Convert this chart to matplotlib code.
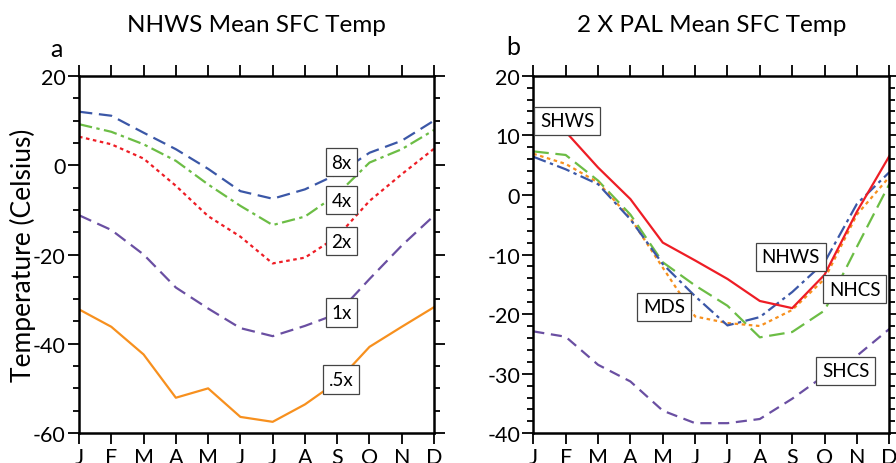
import numpy as np
import matplotlib
matplotlib.use('Agg')
import matplotlib.pyplot as plt
from matplotlib.ticker import MultipleLocator

plt.rcParams['font.family'] = ['Lato', 'DejaVu Sans']

months = ['J', 'F', 'M', 'A', 'M', 'J', 'J', 'A', 'S', 'O', 'N', 'D']

# panel a: NHWS mean surface temperature for different CO2 levels
a_8x = [12.0, 11.1, 7.3, 3.6, -0.8, -5.8, -7.5, -5.4, -2.0, 2.8, 5.5, 10.0]
a_4x = [9.2, 7.5, 4.7, 1.0, -4.3, -9.1, -13.4, -11.5, -6.5, 0.6, 3.6, 7.9]
a_2x = [6.4, 4.7, 1.5, -4.6, -11.4, -16.0, -22.0, -20.7, -16.0, -8.0, -2.0, 3.7]
a_1x = [-11.2, -14.5, -20.0, -27.4, -32.1, -36.5, -38.3, -36.0, -33.3, -25.5, -18.0, -11.3]
a_05x = [-32.3, -36.2, -42.4, -52.1, -50.0, -56.4, -57.5, -53.6, -48.5, -40.7, -36.2, -31.8]

# panel b: 2 x PAL mean surface temperature for different regions
b_shws = [12.2, 10.6, 4.6, -0.7, -8.0, -11.0, -14.1, -17.8, -19.0, -13.4, -2.8, 6.5]
b_mds = [6.9, 5.2, 2.1, -3.9, -12.2, -20.4, -21.5, -22.0, -19.3, -14.1, -3.3, 3.0]
b_nhcs = [7.3, 6.7, 2.4, -3.3, -11.3, -15.2, -18.6, -23.9, -23.0, -19.4, -8.7, 1.8]
b_nhws = [6.4, 4.3, 1.8, -4.1, -11.6, -17.0, -21.9, -20.5, -16.3, -11.3, -1.5, 3.8]
b_shcs = [-22.9, -23.8, -28.5, -31.3, -36.2, -38.3, -38.3, -37.6, -34.2, -30.3, -27.0, -22.5]

blue = '#3b57a7'
green = '#6cbd45'
red = '#ee1d25'
purple = '#6a4fa2'
orange = '#f7901e'

x = np.arange(12)

fig = plt.figure(figsize=(8.96, 4.64), dpi=100)
ax1 = fig.add_axes([0.0882, 0.0647, 0.3962, 0.7693])
ax2 = fig.add_axes([0.5952, 0.0640, 0.3973, 0.7707])

lw = 1.6
ax1.plot(x, a_8x, color=blue, lw=lw, dashes=(6, 3))
ax1.plot(x, a_4x, color=green, lw=lw, dashes=(6, 2, 1.5, 2))
ax1.plot(x, a_2x, color=red, lw=lw, dashes=(1.6, 1.6))
ax1.plot(x, a_1x, color=purple, lw=lw, dashes=(6, 3))
ax1.plot(x, a_05x, color=orange, lw=lw)

ax2.plot(x, b_shcs, color=purple, lw=lw, dashes=(5, 3))
ax2.plot(x, b_nhcs, color=green, lw=lw, dashes=(7, 3))
ax2.plot(x, b_mds, color=orange, lw=lw, dashes=(1.6, 1.6))
ax2.plot(x, b_nhws, color=blue, lw=lw, dashes=(6, 2, 1.5, 2))
ax2.plot(x, b_shws, color=red, lw=lw)

box = dict(boxstyle='square,pad=0.3', fc='white', ec='#444444', lw=0.9)
for lab, yv in [('8x', 0.7), ('4x', -7.8), ('2x', -17.0), ('1x', -33.0), ('.5x', -48.0)]:
    ax1.text(8.13, yv, lab, fontsize=13.5, ha='center', va='center', bbox=box)
for lab, xv, yv in [('SHWS', 1.04, 12.4), ('NHWS', 7.96, -10.4), ('NHCS', 9.93, -15.8),
                    ('MDS', 4.04, -18.8), ('SHCS', 9.65, -29.5)]:
    ax2.text(xv, yv, lab, fontsize=13.5, ha='center', va='center', bbox=box)

for ax, ylim, major, minor in [(ax1, (-60, 20), 20, 5), (ax2, (-40, 20), 10, 2)]:
    ax.set_xlim(0, 11)
    ax.set_ylim(*ylim)
    ax.set_xticks(x)
    ax.set_xticklabels(months)
    ax.yaxis.set_major_locator(MultipleLocator(major))
    ax.yaxis.set_minor_locator(MultipleLocator(minor))
    ax.tick_params(which='both', direction='out', top=True, right=True,
                   labelsize=15.5, width=1.3, colors='black')
    ax.tick_params(which='major', length=8, pad=1.5)
    ax.tick_params(which='minor', length=4.5)
    ax.tick_params(axis='x', pad=2)
    for s in ax.spines.values():
        s.set_linewidth(1.8)
    ax.set_yticklabels(['%d' % v for v in ax.get_yticks()])

ax1.set_ylabel('Temperature (Celsius)', fontsize=19, labelpad=-2)
fig.text(0.2865, 0.945, 'NHWS Mean SFC Temp', fontsize=17.5, ha='center', va='center')
fig.text(0.7940, 0.945, '2 X PAL Mean SFC Temp', fontsize=17.5, ha='center', va='center')
fig.text(0.0625, 0.893, 'a', fontsize=18, ha='center', va='center')
fig.text(0.5725, 0.897, 'b', fontsize=18, ha='center', va='center')

fig.savefig('out.png', dpi=100)
